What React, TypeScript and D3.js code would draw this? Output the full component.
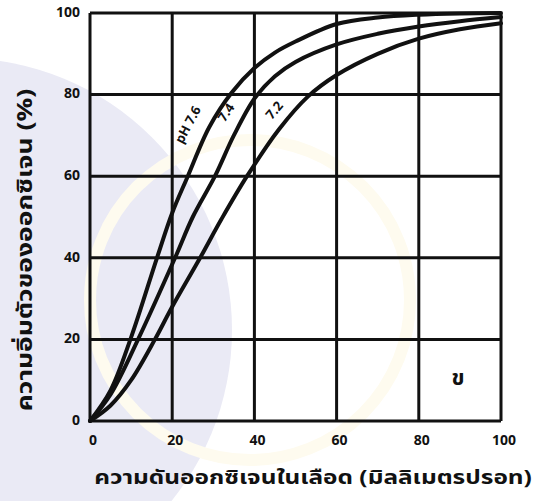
import React from "react";
import * as d3 from "d3";

const xTicks = [0, 20, 40, 60, 80, 100];
const yTicks = [0, 20, 40, 60, 80, 100];

const pH76X = [0, 5, 10, 16.3, 20, 23.8, 29, 34.5, 40, 45, 50, 60, 70, 80, 90, 100];
const pH76Y = [0, 7.5, 20.5, 40, 51, 60, 72, 80.5, 86.5, 90.3, 93, 97.3, 98.9, 99.6, 99.9, 100];

const pH74X = [0, 5, 11.7, 20.7, 25, 30.4, 35, 40, 45, 50, 60, 70, 80, 90, 100];
const pH74Y = [0, 6.5, 20, 40, 50, 60, 70, 79, 84.5, 88, 92.3, 94.9, 96.7, 98, 99];

const pH72X = [0, 5, 10, 15.8, 20, 26.8, 32, 38.2, 46, 53, 60, 70, 80, 90, 100];
const pH72Y = [0, 3.8, 10, 20, 28, 40, 49.5, 60, 71.5, 79.5, 84.8, 90, 93.7, 96, 97.5];

const curveLabels = ["pH 7.6", "7.4", "7.2"];
const labelPosX = [24, 33.3, 45];
const labelPosY = [72.5, 75.5, 76];
const labelAngles = [-62, -57, -50];

const xTitle = "ความดันออกซิเจนในเลือด (มิลลิเมตรปรอท)";
const yTitle = "ความอิ่มตัวของออกซิเจน (%)";
const panelLabel = "ข";

const W = 547;
const H = 501;

export default function App() {
  const x = d3.scaleLinear().domain([0, 100]).range([90, 501]);
  const y = d3.scaleLinear().domain([0, 100]).range([421, 13]);

  const line = d3
    .line<[number, number]>()
    .x((d) => x(d[0]))
    .y((d) => y(d[1]))
    .curve(d3.curveCatmullRom.alpha(0.5));

  const series = [
    pH76X.map((v, i) => [v, pH76Y[i]] as [number, number]),
    pH74X.map((v, i) => [v, pH74Y[i]] as [number, number]),
    pH72X.map((v, i) => [v, pH72Y[i]] as [number, number]),
  ];

  const font = "'Noto Sans Thai', 'Noto Sans', 'DejaVu Sans', sans-serif";

  return (
    <svg
      width={W}
      height={H}
      viewBox={`0 0 ${W} ${H}`}
      style={{ position: "absolute", left: 0, top: 0, background: "#ffffff" }}
    >
      {/* watermark */}
      <circle cx={-40} cy={330} r={272} fill="#eaeaf5" />
      <circle cx={250} cy={300} r={160} fill="none" stroke="#fefbef" strokeWidth={12} />

      {/* grid */}
      <g stroke="#111" strokeWidth={3} fill="none">
        {xTicks.map((t) => (
          <line key={"gx" + t} x1={x(t)} x2={x(t)} y1={y(0)} y2={y(100)} />
        ))}
        {yTicks.map((t) => (
          <line key={"gy" + t} x1={x(0)} x2={x(100)} y1={y(t)} y2={y(t)} />
        ))}
      </g>

      {/* curves */}
      <g stroke="#111" strokeWidth={4} fill="none" strokeLinecap="round">
        {series.map((s, i) => (
          <path key={"c" + i} d={line(s) || ""} />
        ))}
      </g>

      {/* curve labels */}
      {curveLabels.map((lab, i) => (
        <text
          key={"l" + i}
          x={x(labelPosX[i])}
          y={y(labelPosY[i])}
          transform={`rotate(${labelAngles[i]}, ${x(labelPosX[i])}, ${y(labelPosY[i])})`}
          textAnchor="middle"
          dominantBaseline="middle"
          fontFamily={font}
          fontWeight="bold"
          fontSize={13}
          fill="#111"
        >
          {lab}
        </text>
      ))}

      {/* y tick labels */}
      {yTicks.map((t) => (
        <text
          key={"yt" + t}
          x={x(0) - 10}
          y={y(t)}
          textAnchor="end"
          dominantBaseline="middle"
          fontFamily={font}
          fontWeight="bold"
          fontSize={14}
          fill="#111"
        >
          {t}
        </text>
      ))}

      {/* x tick labels */}
      {xTicks.map((t) => (
        <text
          key={"xt" + t}
          x={x(t) + 3}
          y={441}
          textAnchor="middle"
          dominantBaseline="middle"
          fontFamily={font}
          fontWeight="bold"
          fontSize={14}
          fill="#111"
        >
          {t}
        </text>
      ))}

      {/* axis titles */}
      <g transform="translate(313, 478) scale(1.22, 1)">
        <text
          x={0}
          y={0}
          textAnchor="middle"
          dominantBaseline="middle"
          fontFamily={font}
          fontWeight="bold"
          fontSize={20}
          fill="#111"
        >
          {xTitle}
        </text>
      </g>
      <g transform="translate(26, 250) rotate(-90) scale(1.26, 1)">
        <text
          x={0}
          y={0}
          textAnchor="middle"
          dominantBaseline="middle"
          fontFamily={font}
          fontWeight="bold"
          fontSize={21}
          fill="#111"
        >
          {yTitle}
        </text>
      </g>

      {/* panel label */}
      <text
        x={458}
        y={379}
        textAnchor="middle"
        dominantBaseline="middle"
        fontFamily={font}
        fontWeight="bold"
        fontSize={22}
        fill="#111"
      >
        {panelLabel}
      </text>
    </svg>
  );
}
